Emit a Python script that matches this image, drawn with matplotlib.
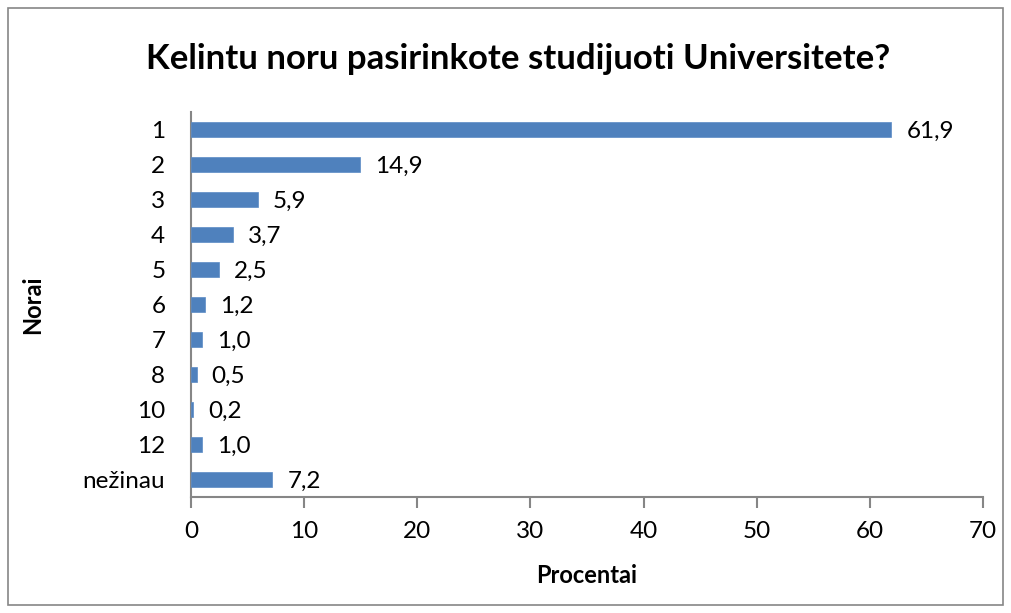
import matplotlib
matplotlib.use('Agg')
import matplotlib.pyplot as plt
from matplotlib.patches import Rectangle

categories = ['1', '2', '3', '4', '5', '6', '7', '8', '10', '12', 'nežinau']
values = [61.9, 14.9, 5.9, 3.7, 2.5, 1.2, 1.0, 0.5, 0.2, 1.0, 7.2]
xticks = [0, 10, 20, 30, 40, 50, 60, 70]

plt.rcParams['font.family'] = ['Lato', 'DejaVu Sans']

W, H = 1011, 613
fig = plt.figure(figsize=(W / 100, H / 100), dpi=100)
fig.patch.set_facecolor('white')
ax = fig.add_axes([191 / W, 1 - 497 / H, (983 - 191) / W, (497 - 112) / H])

ypos = list(range(len(categories)))
ax.barh(ypos, values, height=0.42, color='#4F81BD', edgecolor='#5B8BC5', lw=0.5, zorder=3)
for y, v in zip(ypos, values):
    ax.text(v + 15 / (792 / 70), y + 0.05, f'{v:.1f}'.replace('.', ','),
            va='center', ha='left', fontsize=17.5, color='black')

ax.set_ylim(len(categories) - 0.5, -0.5)
ax.set_xlim(0, 70)
ax.set_yticks(ypos)
ax.set_yticklabels(categories, fontsize=17.5)
ax.set_xticks(xticks)
ax.set_xticklabels([str(t) for t in xticks], fontsize=17.5)
ax.tick_params(axis='y', length=0, pad=18.5)
ax.tick_params(axis='x', length=8, width=1.5, color='#868686', pad=9)

for s in ['top', 'right']:
    ax.spines[s].set_visible(False)
for s in ['left', 'bottom']:
    ax.spines[s].set_color('#868686')
    ax.spines[s].set_linewidth(1.5)

ax.set_xlabel('Procentai', fontsize=17, fontweight='bold')
ax.set_ylabel('Norai', fontsize=17, fontweight='bold')
ax.yaxis.set_label_coords(-(191 - 44) / (983 - 191), 0.5)
ax.xaxis.set_label_coords(0.5, -(564 - 497) / (497 - 112))

fig.text(518 / W, 1 - 59 / H, 'Kelintu noru pasirinkote studijuoti Universitete?',
         ha='center', va='center', fontsize=25, fontweight='bold')

fig.add_artist(Rectangle((8 / W, 8 / H), (W - 16) / W, (H - 16) / H,
                         transform=fig.transFigure, fill=False,
                         edgecolor='#868686', lw=1.2))

fig.savefig('out.png', dpi=100, facecolor='white')
